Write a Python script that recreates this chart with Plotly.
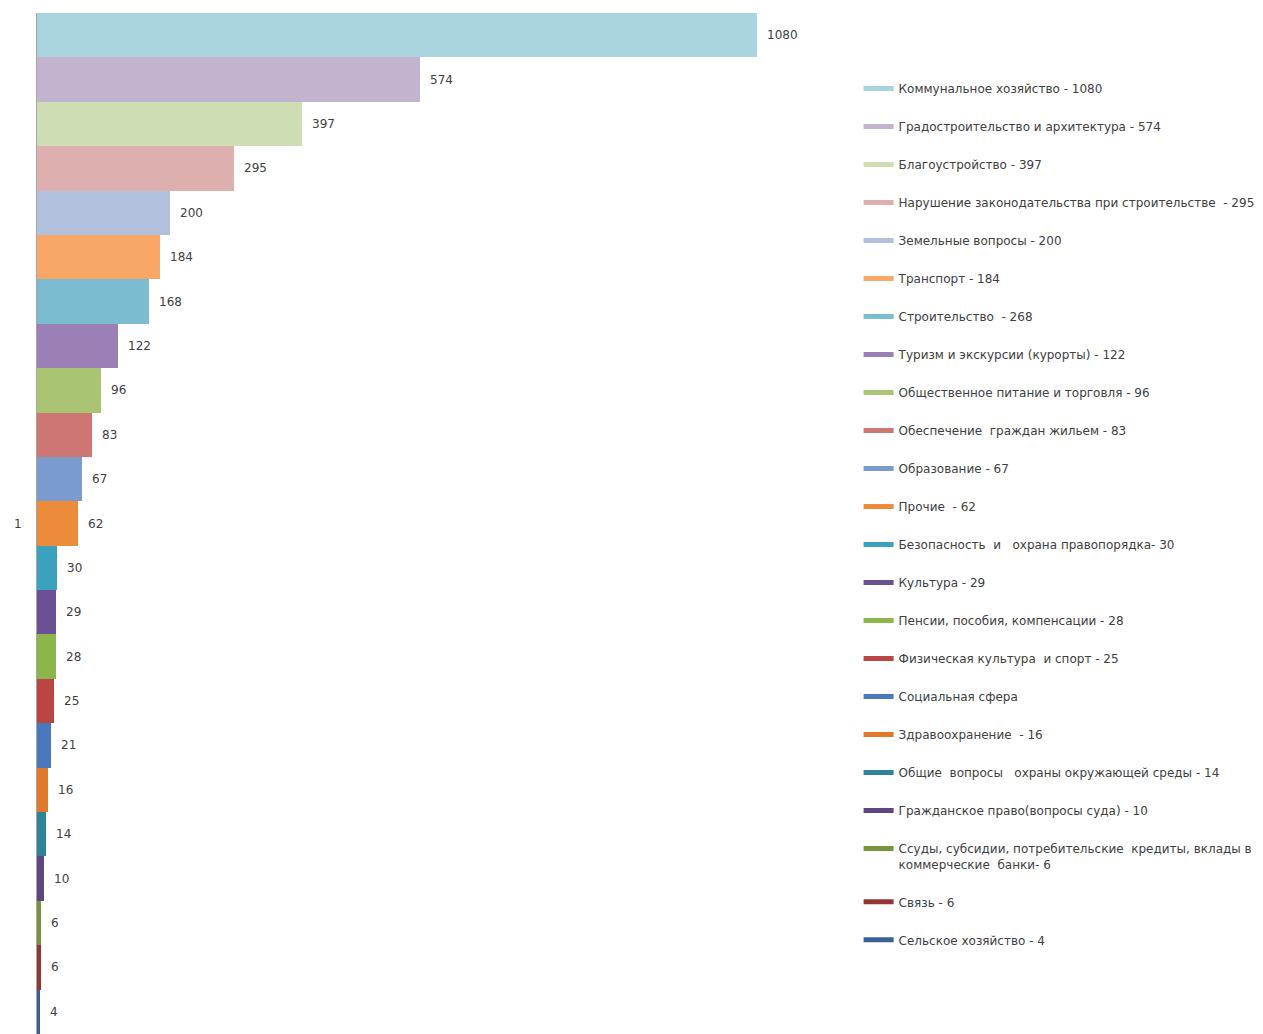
import plotly.graph_objects as go

categories = [
    "Коммунальное хозяйство - 1080",
    "Градостроительство и архитектура - 574",
    "Благоустройство - 397",
    "Нарушение законодательства при строительстве  - 295",
    "Земельные вопросы - 200",
    "Транспорт - 184",
    "Строительство  - 268",
    "Туризм и экскурсии (курорты) - 122",
    "Общественное питание и торговля - 96",
    "Обеспечение  граждан жильем - 83",
    "Образование - 67",
    "Прочие  - 62",
    "Безопасность  и   охрана правопорядка- 30",
    "Культура - 29",
    "Пенсии, пособия, компенсации - 28",
    "Физическая культура  и спорт - 25",
    "Социальная сфера",
    "Здравоохранение  - 16",
    "Общие  вопросы   охраны окружающей среды - 14",
    "Гражданское право(вопросы суда) - 10",
    "Ссуды, субсидии, потребительские  кредиты, вклады в<br>коммерческие  банки- 6",
    "Связь - 6",
    "Сельское хозяйство - 4",
]
values = [1080, 574, 397, 295, 200, 184, 168, 122, 96, 83, 67, 62,
          30, 29, 28, 25, 21, 16, 14, 10, 6, 6, 4]
colors = [
    "#A9D3DF", "#C2B4CF", "#CFDDB4", "#DDB0AF", "#B2C1DD", "#F9A766",
    "#7BBDCE", "#9A80B5", "#A9C472", "#CE7674", "#7B9BCF", "#EC8B3A",
    "#3AA2BD", "#6A5194", "#8CB54C", "#BA4543", "#4A78BD", "#E2782A",
    "#2F8398", "#5D4681", "#77933C", "#943634", "#3A5F98",
]
tick_label = "1"

fig = go.Figure()
n = len(values)
for i, (name, v, c) in enumerate(zip(categories, values, colors)):
    fig.add_trace(go.Bar(
        x=[v], y=[i], orientation="h", width=1,
        marker=dict(color=c, line=dict(width=0)),
        showlegend=False, name=name, hoverinfo="x",
    ))
for i, (name, c) in enumerate(zip(categories, colors)):
    fig.add_trace(go.Scatter(
        x=[None], y=[None], mode="lines", name=name,
        line=dict(color=c, width=5), legendgroup=f"g{i}",
    ))
for i, v in enumerate(values):
    fig.add_annotation(
        x=v, y=i, text=str(v), showarrow=False, xanchor="left",
        xshift=8, font=dict(family="DejaVu Sans", size=12, color="#404040"),
    )

fig.update_layout(
    width=1255, height=1026,
    margin=dict(l=29, r=426, t=5, b=0),
    paper_bgcolor="white", plot_bgcolor="white",
    barmode="overlay", bargap=0,
    font=dict(family="DejaVu Sans", size=12, color="#404040"),
    legend=dict(
        x=1.027, xanchor="left", y=0.940, yanchor="top",
        traceorder="grouped", tracegroupgap=19,
        font=dict(family="DejaVu Sans", size=12, color="#404040"),
        bgcolor="rgba(0,0,0,0)", valign="top",
    ),
    xaxis=dict(range=[0, 1200], visible=False, showgrid=False, zeroline=False),
    yaxis=dict(
        range=[n - 0.5, -0.5], tickvals=[(n - 1) / 2], ticktext=[tick_label],
        showline=True, linecolor="#A6A6A6", linewidth=1, showgrid=False,
        zeroline=False, ticks="", ticklabelstandoff=12,
        tickfont=dict(family="DejaVu Sans", size=12, color="#404040"),
    ),
)

fig.write_html("out.html")
